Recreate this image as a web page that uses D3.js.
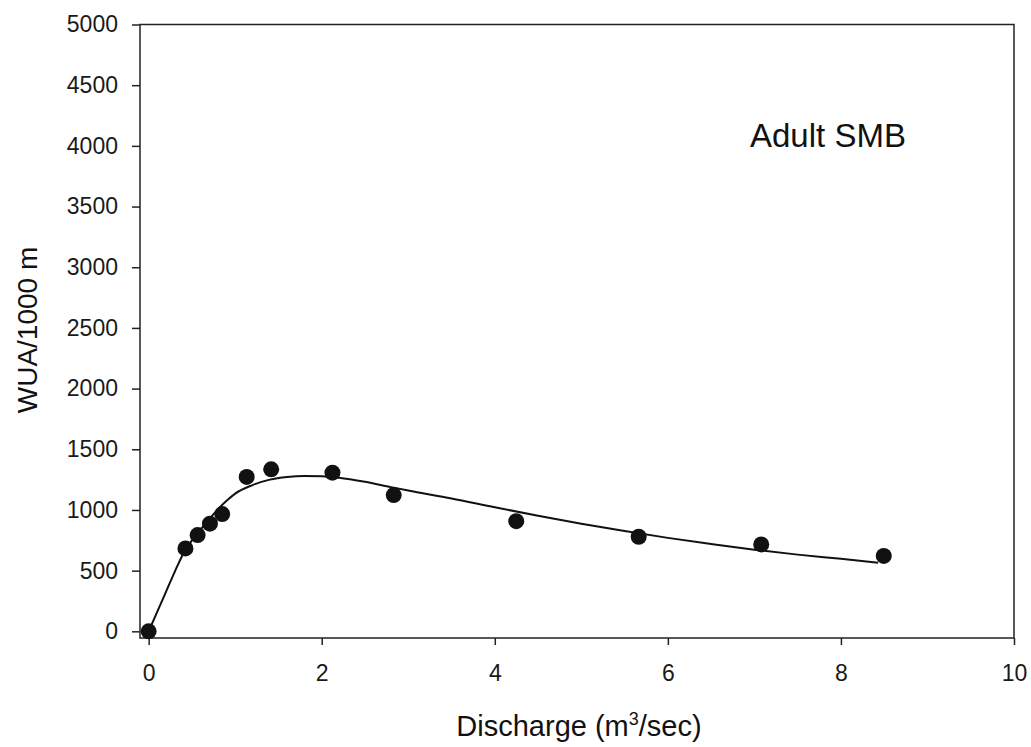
<!DOCTYPE html>
<html>
<head>
<meta charset="utf-8">
<script src="https://cdn.jsdelivr.net/npm/d3@7"></script>
<style>
  html, body { margin: 0; padding: 0; background: #fff; }
  svg { display: block; font-family: Arial, 'Liberation Sans', sans-serif; }
  .axis text { fill: #1a1a1a; font-size: 23px; }
  .axis line { stroke: #222; stroke-width: 1.5px; }
</style>
</head>
<body>
<svg width="1031" height="747"></svg>
<script>
// observed points: discharge (m3/sec) and WUA/1000 m
const discharge = [0, 0.425, 0.566, 0.708, 0.85, 1.133, 1.416, 2.124, 2.832, 4.248, 5.663, 7.079, 8.495];
const wua = [0, 683, 793, 887, 966, 1272, 1335, 1307, 1123, 908, 779, 716, 621];

// fitted curve
const curveX = [0, 0.1, 0.2, 0.3, 0.4, 0.5, 0.6, 0.7, 0.8, 0.9, 1.0, 1.2, 1.4, 1.6, 1.8, 2.0, 2.2, 2.5, 2.8, 3.0, 3.5, 4.0, 4.5, 5.0, 5.5, 6.0, 6.5, 7.0, 7.5, 8.0, 8.43];
const curveY = [0, 162, 325, 488, 640, 750, 838, 925, 1005, 1075, 1135, 1205, 1250, 1272, 1280, 1278, 1266, 1232, 1188, 1160, 1095, 1022, 952, 887, 826, 770, 720, 673, 632, 597, 566];

const xTicks = [0, 2, 4, 6, 8, 10];
const yTicks = [0, 500, 1000, 1500, 2000, 2500, 3000, 3500, 4000, 4500, 5000];

const svg = d3.select('svg');

const x = d3.scaleLinear().domain([-0.1, 10]).range([140, 1014]);
const y = d3.scaleLinear().domain([-55, 5000]).range([638, 24.5]);

// frame
svg.append('rect')
  .attr('x', x.range()[0])
  .attr('y', y.range()[1])
  .attr('width', x.range()[1] - x.range()[0])
  .attr('height', y.range()[0] - y.range()[1])
  .attr('fill', 'none')
  .attr('stroke', '#222')
  .attr('stroke-width', 1.5);

svg.append('g')
  .attr('class', 'axis')
  .attr('transform', `translate(0,${y.range()[0]})`)
  .call(d3.axisBottom(x).tickValues(xTicks).tickFormat(d3.format('d')).tickSize(7).tickSizeOuter(0).tickPadding(20))
  .call(g => g.select('.domain').remove());

svg.append('g')
  .attr('class', 'axis')
  .attr('transform', `translate(${x.range()[0]},0)`)
  .call(d3.axisLeft(y).tickValues(yTicks).tickFormat(d3.format('d')).tickSize(8).tickSizeOuter(0).tickPadding(14))
  .call(g => g.select('.domain').remove());

// fitted line
const curve = curveX.map((d, i) => [d, curveY[i]]);
svg.append('path')
  .datum(curve)
  .attr('fill', 'none')
  .attr('stroke', '#111')
  .attr('stroke-width', 2)
  .attr('d', d3.line().x(d => x(d[0])).y(d => y(d[1])).curve(d3.curveMonotoneX));

// points
svg.append('g')
  .selectAll('circle')
  .data(discharge)
  .enter().append('circle')
  .attr('cx', d => x(d))
  .attr('cy', (d, i) => y(wua[i]))
  .attr('r', 8)
  .attr('fill', '#111');

// labels
svg.append('text')
  .attr('x', 750)
  .attr('y', 147)
  .attr('font-size', 33)
  .attr('fill', '#111')
  .text('Adult SMB');

const xt = svg.append('text')
  .attr('x', 579)
  .attr('y', 736)
  .attr('text-anchor', 'middle')
  .attr('font-size', 29)
  .attr('fill', '#111');
xt.append('tspan').text('Discharge (m');
xt.append('tspan').attr('dy', -11).attr('font-size', 18).text('3');
xt.append('tspan').attr('dy', 11).text('/sec)');

svg.append('text')
  .attr('transform', 'translate(37,330) rotate(-90)')
  .attr('text-anchor', 'middle')
  .attr('font-size', 28)
  .attr('fill', '#111')
  .text('WUA/1000 m');
</script>
</body>
</html>
